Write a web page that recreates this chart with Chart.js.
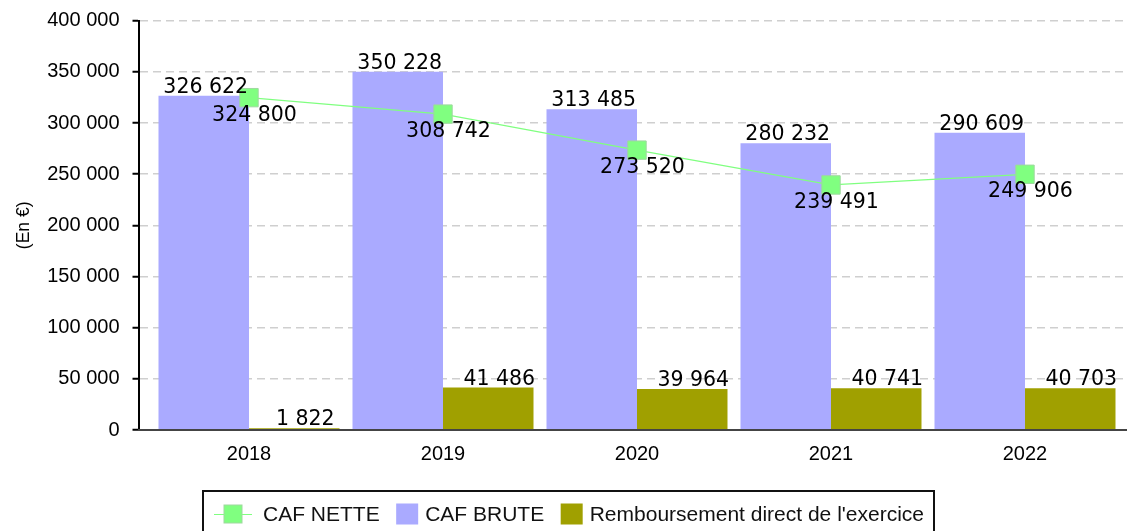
<!DOCTYPE html>
<html>
<head>
<meta charset="utf-8">
<script src="https://cdn.jsdelivr.net/npm/chart.js@4.4.1/dist/chart.umd.min.js"></script>
<style>
  html, body { margin: 0; padding: 0; background: #fff; }
</style>
</head>
<body>
<canvas id="chart" width="1127" height="531"></canvas>
<script>
// chart values
const years = ["2018", "2019", "2020", "2021", "2022"];
const cafNette = [324800, 308742, 273520, 239491, 249906];
const cafBrute = [326622, 350228, 313485, 280232, 290609];
const remboursement = [1822, 41486, 39964, 40741, 40703];
const yMax = 400000;
const yStep = 50000;

// "326622" -> "326 622"
const fmt = v => String(v).replace(/\B(?=(\d{3})+(?!\d))/g, " ");
const pts = arr => arr.map((v, i) => ({ x: i, y: v }));

const labelFont = '20.5px "DejaVu Sans"';
const axisFont = { family: "Liberation Sans", size: 20 };

// value labels over bars and under the line points
const valueLabels = {
  id: "valueLabels",
  afterDatasetsDraw(chart) {
    const ctx = chart.ctx;
    const shift = [5.5, 2, 11];
    ctx.save();
    ctx.font = labelFont;
    ctx.fillStyle = "#000";
    ctx.textAlign = "center";
    ctx.textBaseline = "alphabetic";
    chart.data.datasets.forEach((ds, di) => {
      chart.getDatasetMeta(di).data.forEach((el, i) => {
        const txt = fmt(ds.data[i].y);
        if (ds.type === "line") ctx.fillText(txt, el.x + shift[di], el.y + 23);
        else ctx.fillText(txt, el.x + shift[di], el.y - 3);
      });
    });
    ctx.restore();
  }
};

// framed legend under the chart
const boxLegend = {
  id: "boxLegend",
  afterDraw(chart) {
    const ctx = chart.ctx;
    ctx.save();
    ctx.font = '21px "Liberation Sans"';
    const items = chart.data.datasets.map(ds => {
      const isLine = ds.type === "line";
      return { ds, isLine, sym: isLine ? 38 : 22, gap: isLine ? 11 : 7, tw: ctx.measureText(ds.label).width };
    });
    const spacing = 16.5;
    let total = 0;
    items.forEach((it, i) => { total += it.sym + it.gap + it.tw + (i ? spacing : 0); });
    let x = chart.width / 2 + 5.5 - total / 2;
    const cy = 514;

    ctx.lineWidth = 2;
    ctx.strokeStyle = "#111";
    ctx.strokeRect(x - 11, 491, total + 21, 60);

    items.forEach(it => {
      const ds = it.ds;
      if (it.isLine) {
        ctx.strokeStyle = ds.borderColor;
        ctx.lineWidth = 1.2;
        ctx.beginPath();
        ctx.moveTo(x, cy + 0.5);
        ctx.lineTo(x + it.sym, cy + 0.5);
        ctx.stroke();
        ctx.fillStyle = ds.pointBackgroundColor;
        ctx.fillRect(x + it.sym / 2 - 9, cy - 9, 18, 18);
        ctx.strokeStyle = ds.pointBorderColor;
        ctx.lineWidth = 1;
        ctx.strokeRect(x + it.sym / 2 - 9, cy - 9, 18, 18);
      } else {
        ctx.fillStyle = ds.backgroundColor;
        ctx.fillRect(x, cy - 10.5, it.sym, 21);
      }
      x += it.sym + it.gap;
      ctx.fillStyle = "#111";
      ctx.textBaseline = "alphabetic";
      ctx.fillText(ds.label, x, 520.5);
      x += it.tw + spacing;
    });
    ctx.restore();
  }
};

new Chart(document.getElementById("chart"), {
  data: {
    datasets: [
      {
        type: "line",
        label: "CAF NETTE",
        data: pts(cafNette),
        order: 0,
        borderColor: "#80FF80",
        borderWidth: 1.2,
        pointStyle: "rect",
        pointRadius: 13,
        pointBackgroundColor: "#80FF80",
        pointBorderColor: "#9fd89f",
        pointBorderWidth: 1
      },
      {
        type: "bar",
        label: "CAF BRUTE",
        data: pts(cafBrute),
        order: 1,
        backgroundColor: "#AAAAFF",
        categoryPercentage: 0.933,
        barPercentage: 1
      },
      {
        type: "bar",
        label: "Remboursement direct de l'exercice",
        data: pts(remboursement),
        order: 1,
        backgroundColor: "#A0A000",
        categoryPercentage: 0.933,
        barPercentage: 1
      }
    ]
  },
  options: {
    responsive: false,
    devicePixelRatio: 1,
    animation: false,
    layout: { autoPadding: false, padding: { top: 20.7, right: 0, bottom: 61, left: 0 } },
    plugins: {
      legend: { display: false },
      tooltip: { enabled: false }
    },
    scales: {
      x: {
        type: "linear",
        min: -0.5696,
        max: 4.5258,
        offset: false,
        grid: { display: false, offset: false },
        border: { color: "#444", width: 2, z: 1 },
        afterBuildTicks: s => { s.ticks = years.map((_, i) => ({ value: i })); },
        afterFit: s => { s.height = 40; s.paddingLeft = 0; s.paddingRight = 0; },
        ticks: {
          autoSkip: false,
          maxRotation: 0,
          padding: 4,
          color: "#000",
          font: axisFont,
          callback: v => years[v] ?? ""
        }
      },
      y: {
        min: 0,
        max: yMax,
        afterFit: s => { s.width = 138.5; s.paddingTop = 0; s.paddingBottom = 0; },
        ticks: {
          stepSize: yStep,
          padding: 13,
          color: "#000",
          font: axisFont,
          callback: v => fmt(v)
        },
        grid: {
          color: "#cfcfcf",
          lineWidth: 1.5,
          drawTicks: true,
          tickLength: 6,
          tickColor: "#000",
          tickWidth: 2
        },
        border: { color: "#000", width: 2, dash: [8, 5] },
        title: {
          display: true,
          text: "(En €)",
          color: "#000",
          font: { family: "Liberation Sans", size: 17.5 },
          padding: { top: 14, bottom: 0 }
        }
      }
    }
  },
  plugins: [valueLabels, boxLegend]
});
</script>
</body>
</html>
